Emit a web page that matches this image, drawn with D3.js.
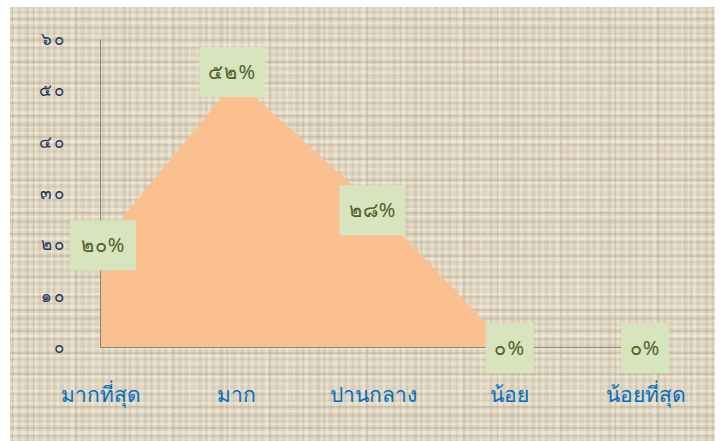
<!DOCTYPE html>
<html>
<head>
<meta charset="utf-8">
<script src="https://cdn.jsdelivr.net/npm/d3@7"></script>
<style>
  body { margin: 0; background: #fff; }
  svg text { font-family: "Noto Sans", "DejaVu Sans", sans-serif; }
</style>
</head>
<body>
<div id="chart"></div>
<script>
// chart data
var categories = ["มากที่สุด", "มาก", "ปานกลาง", "น้อย", "น้อยที่สุด"];
var values = [20, 52, 28, 0, 0];
var valueLabels = ["๒๐%", "๕๒%", "๒๘%", "๐%", "๐%"];
var yTicks = [0, 10, 20, 30, 40, 50, 60];
var yTickLabels = ["๐", "๑๐", "๒๐", "๓๐", "๔๐", "๕๐", "๖๐"];

var svgWidth = 723;
var svgHeight = 441;

var margin = { top: 39, bottom: 94, right: 78, left: 100 };
var height = svgHeight - margin.top - margin.bottom;
var width = svgWidth - margin.left - margin.right;

var svg = d3.select("#chart")
    .append("svg")
    .attr("width", svgWidth)
    .attr("height", svgHeight);

// canvas-like texture background (fixed stripe layout, just decoration)
var tile = 97;
var defs = svg.append("defs");
var pat = defs.append("pattern")
    .attr("id", "canvas")
    .attr("patternUnits", "userSpaceOnUse")
    .attr("width", tile)
    .attr("height", tile);
pat.append("rect").attr("width", tile).attr("height", tile).attr("fill", "#dcd2be");
var lightStripes = [[2, 2], [9, 1], [14, 3], [22, 2], [30, 1], [35, 2], [43, 3], [51, 1], [57, 2], [64, 2], [71, 3], [79, 1], [85, 2], [92, 2]];
var darkStripes = [[5, 2], [12, 1], [18, 2], [26, 3], [33, 1], [39, 2], [47, 2], [54, 1], [61, 2], [68, 1], [75, 2], [82, 2], [89, 1]];
lightStripes.forEach(function (s, i) {
    pat.append("rect").attr("x", 0).attr("y", s[0]).attr("width", tile).attr("height", s[1])
        .attr("fill", "#efe8d7").attr("opacity", [0.8, 0.5, 0.65][i % 3]);
    pat.append("rect").attr("x", s[0]).attr("y", 0).attr("width", s[1]).attr("height", tile)
        .attr("fill", "#efe8d7").attr("opacity", [0.45, 0.7, 0.55][i % 3]);
});
darkStripes.forEach(function (s, i) {
    pat.append("rect").attr("x", 0).attr("y", s[0]).attr("width", tile).attr("height", s[1])
        .attr("fill", "#b9ae99").attr("opacity", [0.35, 0.2, 0.45][i % 3]);
    pat.append("rect").attr("x", s[0]).attr("y", 0).attr("width", s[1]).attr("height", tile)
        .attr("fill", "#b9ae99").attr("opacity", [0.25, 0.4, 0.2][i % 3]);
});

svg.append("rect")
    .attr("x", 10)
    .attr("y", 7)
    .attr("width", 705)
    .attr("height", 434)
    .attr("fill", "url(#canvas)");

var chartGroup = svg.append("g")
    .attr("transform", `translate(${margin.left}, ${margin.top})`);

// scales
var xScale = d3.scalePoint()
    .domain(categories)
    .range([0, width]);

var yScale = d3.scaleLinear()
    .domain([0, 60])
    .range([height, 0]);

// area
var data = categories.map(function (c, i) { return { cat: c, value: values[i], label: valueLabels[i] }; });

var area = d3.area()
    .x(d => xScale(d.cat))
    .y0(yScale(0))
    .y1(d => yScale(d.value));

chartGroup.append("path")
    .datum(data)
    .attr("d", area)
    .attr("fill", "#fac090");

// axes
var leftAxis = d3.axisLeft(yScale)
    .tickValues(yTicks)
    .tickSize(0)
    .tickPadding(34)
    .tickFormat((d, i) => yTickLabels[i]);

var yAxis = chartGroup.append("g").call(leftAxis);
yAxis.select(".domain").attr("stroke", "#868686");
yAxis.selectAll("text")
    .attr("fill", "#1f3864")
    .style("font-size", "17px")
    .style("letter-spacing", "2px");

var bottomAxis = d3.axisBottom(xScale)
    .tickSize(0)
    .tickPadding(40);

var xAxis = chartGroup.append("g")
    .attr("transform", `translate(0, ${height})`)
    .call(bottomAxis);
xAxis.select(".domain").attr("stroke", "#868686");
xAxis.selectAll("text")
    .attr("fill", "#0070c0")
    .style("font-size", "21px");

// data labels
var labelGroup = chartGroup.selectAll(".dataLabel")
    .data(data)
    .enter()
    .append("g")
    .attr("transform", d => `translate(${xScale(d.cat)}, ${yScale(d.value)})`);

var offsets = [{ dx: 3, dy: 1 }, { dx: -4, dy: -8 }, { dx: 0, dy: 7 }, { dx: 1, dy: 1 }, { dx: 0, dy: 1 }];

labelGroup.each(function (d, i) {
    var g = d3.select(this);
    var w = d.label.length > 2 ? 66 : 48;
    var o = offsets[i];
    g.append("rect")
        .attr("x", o.dx - w / 2)
        .attr("y", o.dy - 25)
        .attr("width", w)
        .attr("height", 50)
        .attr("fill", "#d7e4bd");
    g.append("text")
        .attr("x", o.dx)
        .attr("y", o.dy + 7)
        .attr("text-anchor", "middle")
        .attr("fill", "#4f6228")
        .style("font-size", "20px")
        .style("letter-spacing", "1px")
        .text(d.label);
});
</script>
</body>
</html>
